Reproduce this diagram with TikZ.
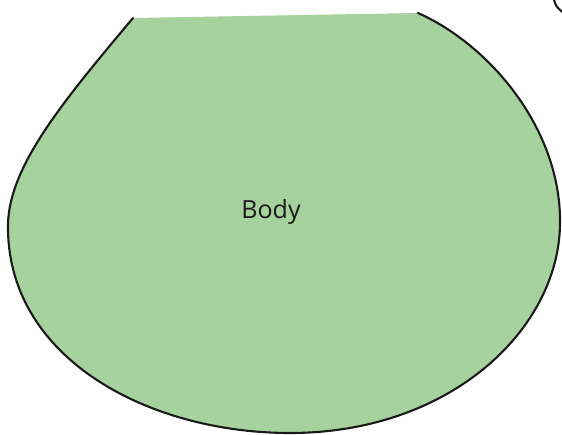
\documentclass[tikz,border=0pt]{standalone}
\usepackage{fontspec}
\setmainfont{Open Sans}
\definecolor{bodygreen}{RGB}{165,210,157}
\definecolor{inkline}{RGB}{26,26,26}
\begin{document}
\begin{tikzpicture}[x=1pt,y=-1pt,
  outline/.style={draw=inkline,line width=2.1pt,line cap=round},
  lbl/.style={font=\fontsize{25}{28}\selectfont,text=inkline}]
\useasboundingbox (0,0) rectangle (562,435);
\coordinate (tl) at (133,18);
\coordinate (tr) at (418,13);
\coordinate (r) at (560,225);
\coordinate (b) at (290,433);
\coordinate (l) at (8,230);
\fill[bodygreen] (tl) -- (tr)
  .. controls (490,45) and (562,130) .. (r)
  .. controls (558,330) and (450,433) .. (b)
  .. controls (150,433) and (10,360) .. (l)
  .. controls (6,170) and (60,105) .. (tl) -- cycle;
\draw[outline] (tr)
  .. controls (490,45) and (562,130) .. (r)
  .. controls (558,330) and (450,433) .. (b)
  .. controls (150,433) and (10,360) .. (l)
  .. controls (6,170) and (60,105) .. (tl);
\coordinate (a1) at (554,0);
\coordinate (a2) at (562,12);
\draw[outline] (a1) .. controls (556,6) .. (a2);
\node[lbl] (body) at (271,212) {Body};
\end{tikzpicture}
\end{document}
